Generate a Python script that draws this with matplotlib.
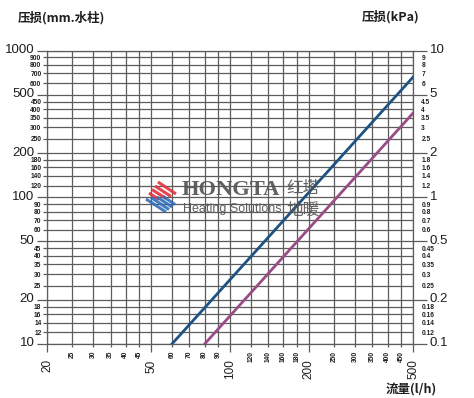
"""
Pressure loss vs flow chart (log-log) with kPa secondary axis.
"""

import matplotlib.pyplot as plt
import matplotlib.ticker as mticker
import matplotlib.transforms as mtransforms

plt.rcParams['font.family'] = ['Liberation Sans', 'Noto Sans CJK SC', 'DejaVu Sans']
CJK = ['Noto Sans CJK SC', 'DejaVu Sans']

# --- data ----------------------------------------------------------------
flow_blue = [60, 500]          # l/h
loss_blue = [10, 660]          # mm water column
flow_purple = [80, 500]
loss_purple = [10, 375]

x_major = [20, 50, 100, 200, 500]
x_minor = [25, 30, 35, 40, 45, 60, 70, 80, 90, 120, 140, 160, 180,
           250, 300, 350, 400, 450]
y_major = [10, 20, 50, 100, 200, 500, 1000]
y_minor = [12, 14, 16, 18, 25, 30, 35, 40, 45, 60, 70, 80, 90,
           120, 140, 160, 180, 250, 300, 350, 400, 450, 600, 700, 800, 900]
kpa_major = [0.1, 0.2, 0.5, 1, 2, 5, 10]
kpa_minor = [0.12, 0.14, 0.16, 0.18, 0.25, 0.3, 0.35, 0.4, 0.45, 0.6, 0.7,
             0.8, 0.9, 1.2, 1.4, 1.6, 1.8, 2.5, 3, 3.5, 4, 4.5, 6, 7, 8, 9]

BLUE = '#1d5283'
PURPLE = '#9a4c86'
GRID = '#5c5c5c'
TXT = '#1e1e1e'

W, H = 474, 398
fig = plt.figure(figsize=(W / 100, H / 100), dpi=100)
ax = fig.add_axes([47 / W, 1 - 344 / H, (413 - 47) / W, (344 - 50.7) / H])

ax.set_xscale('log')
ax.set_yscale('log')
ax.set_xlim(20, 500)
ax.set_ylim(10, 1000)


def fmt(v):
    return ('%g' % v)


ax.xaxis.set_major_locator(mticker.FixedLocator(x_major))
ax.xaxis.set_minor_locator(mticker.FixedLocator(x_minor))
ax.xaxis.set_major_formatter(mticker.FixedFormatter([fmt(v) for v in x_major]))
ax.xaxis.set_minor_formatter(mticker.FixedFormatter([fmt(v) for v in x_minor]))
ax.yaxis.set_major_locator(mticker.FixedLocator(y_major))
ax.yaxis.set_minor_locator(mticker.FixedLocator(y_minor))
ax.yaxis.set_major_formatter(mticker.FixedFormatter([fmt(v) for v in y_major]))
ax.yaxis.set_minor_formatter(mticker.FixedFormatter([fmt(v) for v in y_minor]))

ax.grid(which='both', color=GRID, lw=0.9)
ax.set_axisbelow(True)

ax.tick_params(axis='y', which='major', length=7.5, width=0.9, color=GRID,
               pad=1.5, labelsize=9.5, labelcolor=TXT)
ax.tick_params(axis='y', which='minor', length=3, width=0.9, color=GRID,
               pad=1, labelsize=4.8)
ax.tick_params(axis='x', which='major', length=6, width=0.9, color=GRID,
               pad=5, labelsize=8.5, labelcolor=TXT, labelrotation=90)
ax.tick_params(axis='x', which='minor', length=2, width=0.9, color=GRID,
               pad=3, labelsize=4.8, labelrotation=90)
for lab in ax.yaxis.get_minorticklabels() + ax.xaxis.get_minorticklabels():
    lab.set_fontweight('bold')
    lab.set_color(TXT)
# nudge big y labels up a little, as in the original
up = mtransforms.ScaledTranslation(0, 2 / 100, fig.dpi_scale_trans)
for lab in ax.yaxis.get_majorticklabels():
    lab.set_transform(lab.get_transform() + up)

for sp in ax.spines.values():
    sp.set_color(GRID)
    sp.set_linewidth(0.9)

ax.plot(flow_blue, loss_blue, color=BLUE, lw=2, zorder=5)
ax.plot(flow_purple, loss_purple, color=PURPLE, lw=2, zorder=5)

# right axis in kPa
ax2 = ax.twinx()
ax2.set_yscale('log')
ax2.set_ylim(0.1, 10)
ax2.yaxis.set_major_locator(mticker.FixedLocator(kpa_major))
ax2.yaxis.set_minor_locator(mticker.FixedLocator(kpa_minor))
ax2.yaxis.set_major_formatter(mticker.FixedFormatter([fmt(v) for v in kpa_major]))
ax2.yaxis.set_minor_formatter(mticker.FixedFormatter([fmt(v) for v in kpa_minor]))
ax2.tick_params(axis='y', which='major', length=10, width=0.9, color=GRID,
                pad=2, labelsize=9.5, labelcolor=TXT)
ax2.tick_params(axis='y', which='minor', length=0, pad=6, labelsize=4.8)
for lab in ax2.yaxis.get_minorticklabels():
    lab.set_fontweight('bold')
    lab.set_color(TXT)
for lab in ax2.yaxis.get_majorticklabels():
    lab.set_transform(lab.get_transform() + up)
for sp in ax2.spines.values():
    sp.set_visible(False)

# axis titles
fig.text(18 / W, 1 - 18 / H, '压损(mm.水柱)', family=CJK, fontsize=9,
         fontweight='bold', color=TXT, ha='left', va='center')
fig.text(420 / W, 1 - 17 / H, '压损(kPa)', family=CJK, fontsize=9,
         fontweight='bold', color=TXT, ha='right', va='center')
fig.text(437 / W, 1 - 390 / H, '流量(l/h)', family=CJK, fontsize=9,
         fontweight='bold', color=TXT, ha='right', va='center')


# watermark logo
def px(x, y):
    return (x / W, 1 - y / H)


red_stripes = [((158, 182), (176, 194)), ((155, 186), (171, 196.5)),
               ((152, 189.5), (166, 198.5)), ((149, 193), (159, 199.5))]
blue_stripes = [((146, 199), (166, 212)), ((151, 197.5), (169, 209.5)),
                ((157, 197), (172, 207)), ((163, 196.5), (175, 204.5))]
for stripes, col in ((red_stripes, '#e2323c'), (blue_stripes, '#2f6fb8')):
    for (a, b) in stripes:
        fig.add_artist(plt.Line2D([px(*a)[0], px(*b)[0]], [px(*a)[1], px(*b)[1]],
                                  transform=fig.transFigure, color=col,
                                  lw=2.2, alpha=0.9, solid_capstyle='butt',
                                  zorder=10))

fig.text(*px(182, 190), 'HONGTA', family=['Liberation Serif'], fontsize=16.2,
         fontweight='bold', color='#555555', alpha=0.92, ha='left',
         va='center', zorder=10)
fig.text(*px(183, 209), 'Heating Solutions', fontsize=9, color='#555555',
         alpha=0.92, ha='left', va='center', zorder=10)
fig.text(*px(303, 189), '红塔', family=CJK, fontsize=12, color='#555555',
         alpha=0.9, ha='center', va='center', zorder=10)
fig.text(*px(303, 210), '地暖', family=CJK, fontsize=12, color='#555555',
         alpha=0.9, ha='center', va='center', zorder=10)

fig.savefig('out.png', dpi=100, facecolor='white')
